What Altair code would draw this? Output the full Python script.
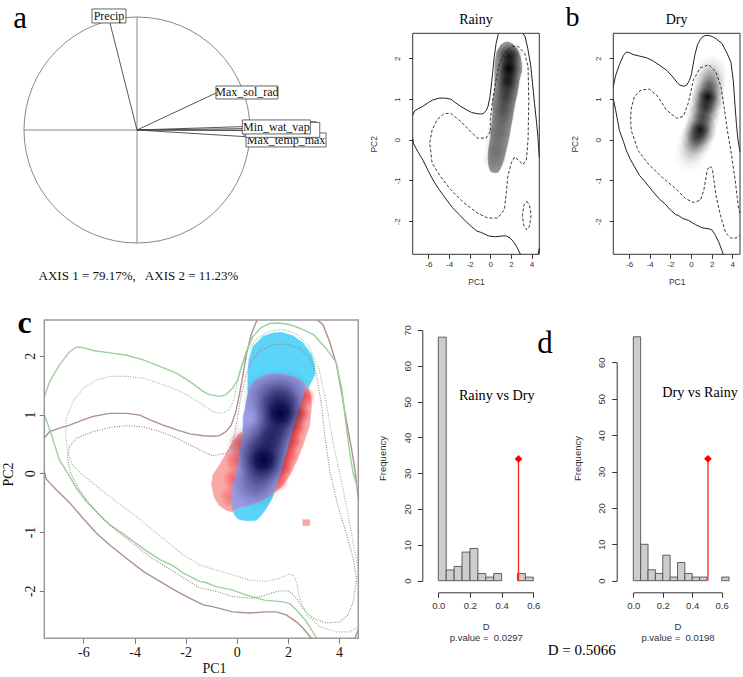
import altair as alt
import pandas as pd

# ============================ DATA ============================
# ---- panel a : correlation circle (loadings on PCA axes 1 and 2)
LOAD_NAMES = ["Precip", "Max_sol_rad", "Min_wat_vap", "var_4", "var_5", "Max_temp_max"]
LOAD_PC1 = [-0.24, 0.705, 0.94, 0.94, 0.95, 0.976]
LOAD_PC2 = [0.95, 0.33, 0.03, 0.012, -0.005, -0.06]
LABEL_TEXT = ["Max_temp_max", "", "", "Min_wat_vap", "Precip", "Max_sol_rad"]
LABEL_PC1 = [1.319, 1.265, 1.290, 1.233, -0.248, 0.973]
LABEL_PC2 = [-0.088, 0.007, 0.001, 0.027, 1.009, 0.332]
AXIS_INERTIA = [79.17, 11.23]

# ---- shared environmental space
PC1_LIM = [-7.53, 4.75]
PC2_LIM = [-2.81, 2.61]
PC1_TICKS = [-6, -4, -2, 0, 2, 4]
PC2_TICKS = [-2, -1, 0, 1, 2]

# outer (100 %) contours of the available environment
RAINY_OUTER = [
    [(-7.53, 0.60), (-7.32, 0.71), (-6.93, 0.77), (-6.54, 0.82), (-6.01, 0.91), (-5.62, 0.97), (-4.97, 1.02),
     (-4.31, 1.02), (-3.79, 0.99), (-3.40, 0.91), (-2.88, 0.82), (-2.35, 0.74), (-1.83, 0.67), (-1.31, 0.64),
     (-0.94, 0.63), (-0.68, 0.64), (-0.42, 0.71), (-0.22, 0.82), (-0.04, 1.05), (0.10, 1.34), (0.24, 1.68),
     (0.37, 2.02), (0.56, 2.36), (0.76, 2.58), (0.82, 2.61)],
    [(3.15, 2.61), (3.37, 2.53), (3.63, 2.24), (3.90, 1.85), (4.09, 1.39), (4.29, 0.88), (4.48, 0.43),
     (4.61, 0.09), (4.75, -0.43)],
    [(-7.53, 0.03), (-7.45, -0.10), (-7.06, -0.28), (-6.54, -0.50), (-6.01, -0.77), (-5.49, -1.02),
     (-4.97, -1.22), (-4.31, -1.45), (-3.66, -1.67), (-3.01, -1.84), (-2.35, -2.01), (-1.83, -2.13),
     (-1.31, -2.24), (-0.94, -2.27), (-0.16, -2.36), (0.50, -2.38), (1.15, -2.36), (1.54, -2.36),
     (1.93, -2.41), (2.33, -2.53), (2.59, -2.64), (2.92, -2.81)],
    [(4.62, -2.81), (4.75, -2.66)],
]
DRY_OUTER = [
    [(-7.53, 1.30), (-7.32, 1.56), (-6.93, 1.85), (-6.54, 2.07), (-6.27, 2.15), (-6.01, 2.14), (-5.62, 2.09),
     (-4.97, 2.05), (-4.31, 2.01), (-3.66, 1.93), (-3.01, 1.82), (-2.35, 1.70), (-1.83, 1.56), (-1.31, 1.39),
     (-1.07, 1.34), (-0.68, 1.31), (-0.42, 1.34), (-0.16, 1.45), (0.04, 1.60), (0.17, 1.79), (0.37, 2.07),
     (0.63, 2.33), (0.95, 2.48), (1.28, 2.55), (1.67, 2.56), (2.07, 2.53), (2.46, 2.47), (3.00, 2.36),
     (3.50, 2.12), (3.87, 1.90), (4.10, 1.45), (4.25, 0.90), (4.40, 0.40), (4.55, 0.00), (4.75, -0.30)],
    [(-7.53, 1.00), (-7.32, 0.75), (-7.10, 0.45), (-6.93, 0.22), (-6.54, -0.05), (-6.27, -0.26),
     (-5.88, -0.48), (-5.46, -0.67), (-4.97, -0.88), (-4.48, -1.02), (-4.05, -1.16), (-3.50, -1.33),
     (-3.01, -1.47), (-2.52, -1.57), (-2.09, -1.70), (-1.86, -1.75), (-1.46, -1.84), (-1.21, -1.86),
     (-0.81, -1.93), (-0.23, -1.98), (0.42, -2.08), (1.08, -2.16), (1.80, -2.19), (2.07, -2.22),
     (2.38, -2.35), (2.71, -2.52), (3.00, -2.72), (3.12, -2.81)],
]
# inner contours of panel b
RAINY_INNER_B = [
    [(0.00, 0.20), (-0.42, 0.04), (-1.24, 0.04), (-1.90, 0.20), (-2.88, 0.45), (-3.86, 0.65), (-4.51, 0.64),
     (-5.16, 0.49), (-5.65, 0.24), (-5.88, -0.08), (-5.65, -0.57), (-4.84, -0.90), (-3.86, -1.22),
     (-2.55, -1.55), (-1.24, -1.80), (-0.26, -1.92), (0.72, -1.92), (1.37, -1.71), (1.54, -1.31),
     (1.70, -0.90), (2.03, -0.57), (2.35, -0.42), (2.84, -0.53), (3.17, -0.61), (3.50, -0.49), (3.66, 0.00),
     (3.73, 0.98), (3.66, 1.80), (3.33, 2.12), (2.68, 2.29), (2.03, 2.29), (1.37, 2.12), (0.88, 1.88),
     (0.56, 1.47), (0.23, 0.98), (0.00, 0.49), (0.00, 0.20)],
    [(3.53, -1.51), (3.80, -1.60), (3.95, -1.86), (3.80, -2.12), (3.53, -2.21), (3.26, -2.12), (3.11, -1.86),
     (3.26, -1.60), (3.53, -1.51)],
]
DRY_INNER_B = [
    [(4.75, -1.80), (4.61, -1.69), (4.28, -0.99), (3.86, -0.26), (3.53, 0.22), (3.25, 0.73), (2.90, 1.31),
     (2.40, 1.67), (1.70, 1.84), (0.88, 1.76), (0.23, 1.47), (-0.26, 0.90), (-0.75, 0.57), (-1.41, 0.53),
     (-2.39, 0.73), (-3.20, 1.06), (-4.02, 1.24), (-4.84, 1.22), (-5.49, 1.06), (-5.82, 0.73), (-5.85, 0.45),
     (-5.78, 0.22), (-5.13, -0.26), (-4.15, -0.59), (-2.84, -0.91), (-1.54, -1.19), (-0.56, -1.44),
     (0.26, -1.54), (0.92, -1.48), (1.24, -1.24), (1.57, -0.75), (1.80, -0.65), (2.06, -0.70), (2.22, -0.99),
     (2.45, -1.40), (2.88, -1.88), (3.37, -2.29), (3.86, -2.41), (4.35, -2.41), (4.75, -2.35)],
]
# inner contours of panel c
RAINY_INNER_C = [
    [(-6.54, 0.46), (-6.27, 0.60), (-5.62, 0.71), (-4.97, 0.78), (-4.31, 0.81), (-3.66, 0.79), (-3.01, 0.71),
     (-2.35, 0.60), (-1.83, 0.48), (-1.31, 0.37), (-0.94, 0.30), (-0.42, 0.34), (-0.22, 0.46), (-0.09, 0.65),
     (0.04, 0.99), (0.17, 1.34), (0.37, 1.68), (0.56, 1.90), (0.89, 2.08), (1.41, 2.19), (1.93, 2.20),
     (2.46, 2.13), (2.85, 1.96), (3.10, 1.70), (3.30, 1.20), (3.45, 0.60), (3.65, 0.00), (3.95, -0.55),
     (4.30, -1.05), (4.55, -1.45), (4.68, -1.80), (4.55, -2.19), (4.35, -2.41), (4.03, -2.53), (3.50, -2.55),
     (2.98, -2.47), (2.59, -2.30), (2.33, -2.13), (2.07, -2.01), (1.67, -2.00), (1.15, -2.07), (0.63, -2.13),
     (-0.16, -2.10), (-0.81, -2.01), (-1.46, -1.95), (-2.09, -1.78), (-2.75, -1.60), (-3.40, -1.42),
     (-4.05, -1.20), (-4.70, -0.98), (-5.30, -0.75), (-5.80, -0.50), (-6.20, -0.25), (-6.50, 0.00),
     (-6.62, 0.25), (-6.54, 0.46)],
]
DRY_INNER_C = [
    [(4.75, -2.61), (4.42, -2.70), (3.90, -2.70), (3.24, -2.61), (2.72, -2.41), (2.46, -2.13), (2.33, -1.84),
     (2.20, -1.73), (2.00, -1.72), (1.67, -1.79), (1.15, -1.84), (0.50, -1.82), (-0.16, -1.73), (-0.81, -1.65),
     (-1.46, -1.56), (-2.09, -1.39), (-3.01, -1.07), (-3.92, -0.74), (-4.97, -0.40), (-5.88, -0.08),
     (-6.40, 0.12), (-6.62, 0.35), (-6.70, 0.65), (-6.67, 0.94), (-6.41, 1.22), (-6.01, 1.45), (-5.49, 1.59),
     (-4.97, 1.65), (-4.31, 1.65), (-3.66, 1.62), (-3.01, 1.53), (-2.35, 1.42), (-1.83, 1.31), (-1.31, 1.16),
     (-0.94, 1.05), (-0.60, 1.02), (-0.30, 1.08), (-0.12, 1.25), (0.00, 1.50), (0.15, 1.80), (0.40, 2.08),
     (0.80, 2.30), (1.30, 2.42), (1.80, 2.45), (2.30, 2.38), (2.80, 2.18), (3.20, 1.80), (3.50, 1.20),
     (3.75, 0.55), (4.05, -0.05), (4.35, -0.70), (4.60, -1.30), (4.75, -1.60)],
]
# occupied niche outlines (density above threshold)
RAINY_REGION = [(1.74, 2.40), (2.20, 2.34), (2.59, 2.22), (2.92, 2.02), (3.05, 1.85), (3.05, 1.68), (2.92, 1.56),
                (2.78, 1.45), (2.72, 1.28), (2.33, 0.82), (2.07, 0.43), (1.74, -0.03), (1.48, -0.31),
                (1.35, -0.45), (1.15, -0.60), (0.95, -0.72), (0.76, -0.80), (0.40, -0.81), (0.04, -0.78),
                (-0.10, -0.70), (-0.16, -0.62), (-0.22, -0.45), (-0.16, -0.23), (-0.03, -0.03), (0.10, 0.31),
                (0.24, 0.65), (0.24, 0.97), (0.43, 1.25), (0.43, 1.65), (0.47, 1.93), (0.63, 2.16), (1.02, 2.33),
                (1.41, 2.39)]
DRY_REGION = [(0.69, 1.56), (1.15, 1.68), (1.67, 1.69), (2.20, 1.65), (2.59, 1.56), (2.78, 1.45), (2.90, 1.32),
              (2.92, 1.15), (2.85, 0.82), (2.59, 0.48), (2.33, 0.20), (2.00, -0.08), (1.74, -0.23), (1.48, -0.33),
              (1.35, -0.36), (1.02, -0.45), (0.50, -0.54), (-0.03, -0.60), (-0.16, -0.66), (-0.42, -0.63),
              (-0.68, -0.55), (-0.87, -0.42), (-0.99, -0.20), (-0.94, -0.03), (-0.68, 0.14), (-0.29, 0.43),
              (0.04, 0.65), (0.24, 0.72), (0.30, 0.99), (0.37, 1.22), (0.50, 1.45)]
OVERLAP_REGION = [(0.69, 1.56), (1.15, 1.68), (1.67, 1.69), (2.20, 1.65), (2.59, 1.56), (2.70, 1.45), (2.55, 1.28),
                  (2.22, 0.82), (1.98, 0.43), (1.68, -0.03), (1.45, -0.31), (1.35, -0.36), (1.02, -0.45),
                  (0.50, -0.54), (-0.03, -0.60), (-0.16, -0.62), (-0.22, -0.45), (-0.16, -0.23), (-0.03, -0.03),
                  (0.10, 0.31), (0.24, 0.65), (0.30, 0.99), (0.37, 1.22), (0.50, 1.45)]
DRY_SPECK = [(2.58, -0.79), (2.85, -0.79), (2.85, -0.89), (2.58, -0.89)]
# density ridges (x, y, relative darkness)
RAINY_CORE = [(1.85, 2.05, 0.85), (1.80, 1.75, 1.0), (1.70, 1.45, 0.85), (1.55, 1.15, 0.6), (1.35, 0.85, 0.45),
              (1.15, 0.55, 0.35), (0.90, 0.20, 0.28), (0.65, -0.15, 0.22), (0.45, -0.45, 0.18)]
DRY_CORE = [(-0.15, -0.40, 0.12), (0.25, -0.15, 0.3), (0.60, 0.05, 0.6), (0.90, 0.25, 0.9), (1.15, 0.55, 0.6),
            (1.40, 0.80, 0.7), (1.62, 1.05, 0.95), (1.80, 1.35, 0.55), (1.95, 1.65, 0.25)]
OVERLAP_CORE = [(1.70, 1.02, 1.0), (1.05, 0.22, 1.0), (1.38, 0.62, 0.75), (1.85, 1.32, 0.45), (0.75, -0.15, 0.4),
                (1.20, 1.30, 0.35), (0.55, 0.45, 0.3)]
DRY_ONLY_CORE = [(2.62, 1.30, 0.8), (2.42, 1.02, 0.95), (2.25, 0.78, 0.95), (2.10, 0.55, 0.95), (1.95, 0.32, 0.95),
                 (1.78, 0.10, 0.9), (1.58, -0.12, 0.75), (0.12, 0.50, 0.5), (0.00, 0.20, 0.6),
                 (-0.10, -0.10, 0.6), (-0.20, -0.40, 0.5)]

# ---- panel d : null distributions of Schoener's D
BIN_WIDTH = 0.05
HIST_RAINY_DRY = [68, 3, 4, 8, 9, 2, 1, 2, 0, 0, 2, 1]
HIST_DRY_RAINY = [67, 10, 3, 2, 7, 1, 5, 2, 1, 1, 0, 0, 1]
D_OBS = 0.5066
P_VALUES = [0.0297, 0.0198]

# ============================ LAYOUT ============================
W, H = 743, 677
SERIF = "Liberation Serif"
SANS = "Liberation Sans"


def sc(dom, rng):
    return alt.Scale(domain=dom, range=rng, nice=False, zero=False)


PANELS = {
    "a": (sc([-1, 1], [24, 250]), sc([-1, 1], [243, 17])),
    "br": (sc(PC1_LIM, [412.7, 539.3]), sc(PC2_LIM, [254.3, 33.3])),
    "bd": (sc(PC1_LIM, [613.3, 740.0]), sc(PC2_LIM, [254.3, 33.3])),
    "c": (sc(PC1_LIM, [44.3, 358.3]), sc(PC2_LIM, [638.3, 320.0])),
    "h1": (sc([0, 0.6], [438.3, 533.3]), sc([0, 70], [580.7, 330.0])),
    "h2": (sc([0, 0.6], [633.3, 721.7]), sc([0, 60], [580.7, 362.3])),
}

layers = []


def xy(p, xaxis=None, yaxis=None):
    xs, ys = PANELS[p]
    return {"x": alt.X("x:Q", scale=xs, axis=xaxis), "y": alt.Y("y:Q", scale=ys, axis=yaxis)}


def seg_df(segs):
    rows = []
    for k, pts in enumerate(segs):
        for i, pt in enumerate(pts):
            rows.append({"x": pt[0], "y": pt[1], "i": i, "seg": k})
    return pd.DataFrame(rows)


def add_lines(p, segs, color, width, dash=None, opacity=1.0):
    kw = dict(color=color, strokeWidth=width, opacity=opacity)
    if dash:
        kw["strokeDash"] = dash
    layers.append(alt.Chart(seg_df(segs)).mark_line(**kw).encode(**xy(p), order="i:Q", detail="seg:N"))


def add_poly(p, pts, color):
    layers.append(alt.Chart(seg_df([pts])).mark_line(
        color=color, fill=color, strokeWidth=0.6, interpolate="linear-closed"
    ).encode(**xy(p), order="i:Q"))


def radial(rgb, stops):
    r, g, b = rgb
    return {"gradient": "radial", "x1": 0.5, "y1": 0.5, "r1": 0, "x2": 0.5, "y2": 0.5, "r2": 0.5,
            "stops": [{"offset": o, "color": f"rgba({r},{g},{b},{a})"} for o, a in stops]}


def add_glow(p, pts, rgb, size, stops):
    df = pd.DataFrame({"x": [q[0] for q in pts], "y": [q[1] for q in pts], "w": [q[2] for q in pts]})
    layers.append(alt.Chart(df).mark_point(
        shape="circle", filled=True, fill=radial(rgb, stops), size=size, strokeWidth=0
    ).encode(**xy(p), opacity=alt.Opacity("w:Q", scale=None)))


def add_text(p, x, y, text, **mk):
    df = pd.DataFrame({"x": [x], "y": [y], "t": [text]})
    layers.append(alt.Chart(df).mark_text(**mk).encode(**xy(p), text="t:N"))


def add_frame(p, xlim, ylim, color, width, xaxis=None, yaxis=None):
    df = pd.DataFrame({"x": [xlim[0]], "x2": [xlim[1]], "y": [ylim[0]], "y2": [ylim[1]]})
    layers.append(alt.Chart(df).mark_rect(fill="transparent", stroke=color, strokeWidth=width).encode(
        **xy(p, xaxis, yaxis), x2="x2:Q", y2="y2:Q"))


# ---------------------------- panel a ----------------------------
layers.append(alt.Chart(pd.DataFrame({"x": [0.0], "y": [0.0]})).mark_point(
    shape="circle", filled=False, size=226 ** 2, color="#8a8a8a", strokeWidth=1, opacity=1
).encode(**xy("a")))
cross = pd.DataFrame({"x": [-1.0, 0.0], "y": [0.0, -1.0], "x2": [1.0, 0.0], "y2": [0.0, 1.0]})
layers.append(alt.Chart(cross).mark_rule(color="#8a8a8a", strokeWidth=1).encode(**xy("a"), x2="x2:Q", y2="y2:Q"))
arrows = pd.DataFrame({"x": [0.0] * len(LOAD_PC1), "y": [0.0] * len(LOAD_PC1), "x2": LOAD_PC1, "y2": LOAD_PC2,
                       "name": LOAD_NAMES})
layers.append(alt.Chart(arrows).mark_rule(color="#444444", strokeWidth=0.9).encode(**xy("a"), x2="x2:Q", y2="y2:Q"))

BOX_W = [80, 72, 74, 68, 34, 62]
BOX_H = [14, 15, 15, 14, 14, 13]
for k in range(len(LABEL_TEXT)):
    bdf = pd.DataFrame({"x": [LABEL_PC1[k]], "y": [LABEL_PC2[k]]})
    layers.append(alt.Chart(bdf).mark_rect(
        fill="white", stroke="#555555", strokeWidth=0.9,
        xOffset=-BOX_W[k] / 2, x2Offset=BOX_W[k] / 2, yOffset=-BOX_H[k] / 2, y2Offset=BOX_H[k] / 2
    ).encode(**xy("a"), x2="x:Q", y2="y:Q"))
    if LABEL_TEXT[k]:
        add_text("a", LABEL_PC1[k], LABEL_PC2[k], LABEL_TEXT[k], font=SERIF, fontSize=12,
                 baseline="middle", align="center", color="#111111")

add_text("a", 0.013, -1.327,
         f"AXIS 1 = {AXIS_INERTIA[0]:.2f}%,\u00a0\u00a0 AXIS 2 = {AXIS_INERTIA[1]:.2f}%",
         font=SERIF, fontSize=13, align="center", baseline="alphabetic", color="#111111")
add_text("a", -1.035, 0.904, "a", font=SERIF, fontSize=31, align="center", baseline="alphabetic", color="black")

# ---------------------------- panel b ----------------------------
def b_axes(off_x):
    xa = alt.Axis(orient="bottom", offset=254.3 - H, values=PC1_TICKS, labelExpr="'' + datum.value",
                  domain=False, grid=False, tickSize=4, tickColor="#333333", labelFont=SANS, labelFontSize=8,
                  labelColor="#333333", labelPadding=2, labelFlush=False, labelOverlap=False,
                  title="PC1", titleFont=SANS, titleFontSize=8.5, titleFontWeight="normal",
                  titleColor="#333333", titlePadding=9)
    ya = alt.Axis(orient="left", offset=-off_x, values=PC2_TICKS, labelExpr="'' + datum.value",
                  domain=False, grid=False, tickSize=4, tickColor="#333333", labelFont=SANS, labelFontSize=8,
                  labelColor="#333333", labelPadding=7, labelAngle=270, labelAlign="center",
                  labelBaseline="bottom", labelFlush=False, labelOverlap=False,
                  title="PC2", titleFont=SANS, titleFontSize=8.5, titleFontWeight="normal",
                  titleColor="#333333", titlePadding=15)
    return xa, ya


# Rainy
add_poly("br", RAINY_REGION, "#939393")
add_glow("br", RAINY_CORE, (0, 0, 0), 26 ** 2, [(0, 1.0), (0.35, 0.75), (0.7, 0.3), (1, 0)])
add_lines("br", RAINY_OUTER, "#222222", 1.0)
add_lines("br", RAINY_INNER_B, "#222222", 0.9, dash=[3, 2])
xa, ya = b_axes(412.7)
add_frame("br", PC1_LIM, PC2_LIM, "#333333", 1, xa, ya)
add_text("br", -1.39, 2.826, "Rainy", font=SERIF, fontSize=14, align="center", baseline="alphabetic", color="black")

# Dry
add_glow("bd", DRY_CORE, (0, 0, 0), 34 ** 2, [(0, 1.0), (0.3, 0.7), (0.65, 0.25), (1, 0)])
add_lines("bd", DRY_OUTER, "#222222", 1.0)
add_lines("bd", DRY_INNER_B, "#222222", 0.9, dash=[3, 2])
xa, ya = b_axes(613.3)
add_frame("bd", PC1_LIM, PC2_LIM, "#333333", 1, xa, ya)
add_text("bd", -1.39, 2.826, "Dry", font=SERIF, fontSize=14, align="center", baseline="alphabetic", color="black")
add_text("bd", -11.48, 2.79, "b", font=SERIF, fontSize=28, align="center", baseline="alphabetic", color="black")

# ---------------------------- panel c ----------------------------
add_poly("c", RAINY_REGION, "#5ad4f8")
add_poly("c", DRY_REGION, "#f7a8a8")
add_poly("c", DRY_SPECK, "#f7a8a8")
add_glow("c", DRY_ONLY_CORE, (255, 55, 55), 24 ** 2, [(0, 0.9), (0.5, 0.6), (0.8, 0.22), (1, 0)])
add_poly("c", OVERLAP_REGION, "#9c9ce4")
add_glow("c", OVERLAP_CORE, (0, 0, 60), 56 ** 2, [(0, 1.0), (0.3, 0.8), (0.6, 0.35), (0.85, 0.08), (1, 0)])
add_lines("c", RAINY_OUTER, "#ad8f95", 1.4)
add_lines("c", DRY_OUTER, "#9dd09d", 1.4)
add_lines("c", RAINY_INNER_C, "#9c7a82", 1.1, dash=[1, 1.5])
add_lines("c", DRY_INNER_C, "#86bf86", 1.1, dash=[1, 1.5])
cx = alt.Axis(orient="bottom", offset=638.3 - H, values=PC1_TICKS, labelExpr="'' + datum.value", domain=False,
              grid=False, tickSize=5, tickColor="#777777", labelFont=SERIF, labelFontSize=14, labelColor="#111111",
              labelPadding=2, labelFlush=False, labelOverlap=False, title="PC1", titleFont=SERIF,
              titleFontSize=14, titleFontWeight="normal", titleColor="#111111", titleX=214, titleY=34,
              titleAlign="center", titleBaseline="alphabetic")
cy = alt.Axis(orient="left", offset=-44.3, values=PC2_TICKS, labelExpr="'' + datum.value", domain=False,
              grid=False, tickSize=5, tickColor="#777777", labelFont=SERIF, labelFontSize=14, labelColor="#111111",
              labelPadding=2, labelAngle=270, labelAlign="center", labelBaseline="bottom", labelFlush=False,
              labelOverlap=False, title="PC2", titleFont=SERIF, titleFontSize=14, titleFontWeight="normal",
              titleColor="#111111", titleX=-36.3, titleY=474, titleAngle=270, titleAlign="center",
              titleBaseline="middle")
add_frame("c", PC1_LIM, PC2_LIM, "#9a9a9a", 1.5, cx, cy)
add_text("c", -8.305, 2.389, "c", font=SERIF, fontSize=32, fontWeight="bold", align="center",
         baseline="alphabetic", color="black")

# ---------------------------- panel d ----------------------------
def add_hist(p, counts, pval, yvals, axis_x, title_y):
    n = len(counts)
    df = pd.DataFrame({"x": [i * BIN_WIDTH for i in range(n)], "x2": [(i + 1) * BIN_WIDTH for i in range(n)],
                       "y": [0] * n, "y2": counts})
    df = df[df["y2"] > 0]
    xaxis = alt.Axis(orient="bottom", offset=592.3 - H, values=[0, 0.2, 0.4, 0.6], format=".1f",
                     domain=True, domainColor="#333333", grid=False, tickSize=5, tickColor="#333333",
                     labelFont=SANS, labelFontSize=9.5, labelColor="#333333", labelPadding=3, labelFlush=False,
                     labelOverlap=False, title=["D", f"p.value = \u00a0{pval}"], titleFont=SANS,
                     titleFontSize=9.5, titleFontWeight="normal", titleColor="#333333", titlePadding=12,
                     titleLineHeight=11)
    yaxis = alt.Axis(orient="left", offset=-axis_x, values=yvals, domain=True, domainColor="#333333",
                     grid=False, tickSize=5, tickColor="#333333", labelFont=SANS, labelFontSize=9.5,
                     labelColor="#333333", labelPadding=5, labelAngle=270, labelAlign="center",
                     labelBaseline="bottom", labelFlush=False, labelOverlap=False, title="Frequency",
                     titleFont=SANS, titleFontSize=9.5, titleFontWeight="normal", titleColor="#333333",
                     titleX=-39.5, titleY=title_y, titleAngle=270, titleAlign="center", titleBaseline="middle")
    layers.append(alt.Chart(df).mark_rect(fill="#cdcdcd", stroke="#505050", strokeWidth=0.9).encode(
        **xy(p, xaxis, yaxis), x2="x2:Q", y2="y2:Q"))
    top = max(counts) / 2
    seg = pd.DataFrame({"x": [D_OBS], "y": [0.0], "y2": [top]})
    layers.append(alt.Chart(seg).mark_rule(color="#ff2020", strokeWidth=1.3).encode(**xy(p), y2="y2:Q"))
    layers.append(alt.Chart(pd.DataFrame({"x": [D_OBS], "y": [top]})).mark_point(
        shape="diamond", filled=True, color="#ff0000", size=60, opacity=1).encode(**xy(p)))


add_hist("h1", HIST_RAINY_DRY, P_VALUES[0], [0, 10, 20, 30, 40, 50, 60, 70], 422.3, 458)
add_hist("h2", HIST_DRY_RAINY, P_VALUES[1], [0, 10, 20, 30, 40, 50, 60], 616.7, 458)
add_text("h1", 0.369, 50.5, "Rainy vs Dry", font=SERIF, fontSize=14.2, align="center", baseline="alphabetic",
         color="black")
add_text("h2", 0.453, 50.5, "Dry vs Rainy", font=SERIF, fontSize=14.2, align="center", baseline="alphabetic",
         color="black")
add_text("h1", 0.674, 63.6, "d", font=SERIF, fontSize=31, align="center", baseline="alphabetic", color="black")
add_text("h2", -0.35, -20.3, f"D = {D_OBS}", font=SERIF, fontSize=15, align="center", baseline="alphabetic",
         color="black")

chart = alt.layer(*layers).resolve_scale(x="independent", y="independent").resolve_axis(
    x="independent", y="independent"
).properties(width=W, height=H, padding=0, autosize="none", background="white").configure_view(stroke=None)

chart.save("out.html", embed_options={"renderer": "svg", "actions": False})
